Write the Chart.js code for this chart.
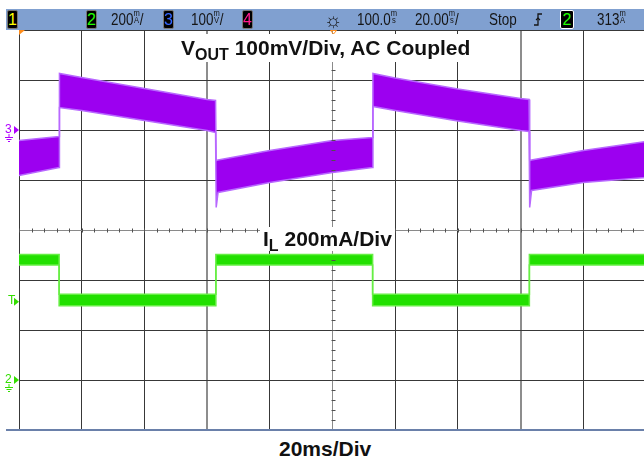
<!DOCTYPE html>
<html>
<head>
<meta charset="utf-8">
<script src="https://cdn.jsdelivr.net/npm/chart.js@4/dist/chart.umd.min.js"></script>
<style>
  body{margin:0;background:#fff;overflow:hidden;width:644px;height:459px;position:relative;font-family:"Liberation Sans",Arial,sans-serif;}
  #scope{position:absolute;left:0;top:0;}
  #bar{position:absolute;left:6px;top:9px;width:640px;height:21px;background:#80a0d0;}
  #baseLine{position:absolute;left:6px;top:429px;width:640px;height:2px;background:#6a80aa;}
  .chBox{position:absolute;top:10px;width:9px;height:17px;background:#000;border:1px solid #777;border-radius:2px;
    font-size:16px;line-height:17px;text-align:center;}
  .st{position:absolute;top:9px;height:21px;line-height:22px;font-size:16px;color:#151515;white-space:nowrap;
    transform:scaleX(0.84);transform-origin:left center;}
  .stk{display:inline-block;font-size:9px;line-height:7px;vertical-align:2px;text-align:center;}
  .lbl{position:absolute;background:#fff;font-weight:bold;font-size:21px;color:#111;white-space:nowrap;}
  .lbl sub{font-size:16px;vertical-align:-5px;line-height:0;}
  .mk{position:absolute;font-size:12px;line-height:12px;}
</style>
</head>
<body>
<canvas id="scope" width="646" height="431"></canvas>

<div id="bar"></div>
<div class="chBox" style="left:7px;color:#ffff00;">1</div>
<div class="chBox" style="left:86px;color:#22ff00;">2</div>
<div class="st" style="left:111px;">200<span class="stk">m<br>A</span>/</div>
<div class="chBox" style="left:163px;color:#3366ff;">3</div>
<div class="st" style="left:191px;">100<span class="stk">m<br>V</span>/</div>
<div class="chBox" style="left:242px;color:#ff1a8c;">4</div>
<div class="st" style="left:324px;font-size:20px;transform:none;">☼</div>
<div class="st" style="left:357px;">100.0<span class="stk">m<br>s</span></div>
<div class="st" style="left:415px;">20.00<span class="stk">m<br>s</span>/</div>
<div class="st" style="left:489px;">Stop</div>
<svg style="position:absolute;left:533px;top:12px;" width="10" height="16">
  <path d="M1 13 H5 V2 H9" stroke="#151515" stroke-width="1.3" fill="none"/>
  <path d="M3 8 L5 6 L7 8" stroke="#151515" stroke-width="1.1" fill="none"/>
</svg>
<div class="chBox" style="left:560px;color:#22ff00;border-color:#fff;width:12px;">2</div>
<div class="st" style="left:597px;">313<span class="stk">m<br>A</span></div>

<div id="baseLine"></div>

<div class="lbl" style="left:178px;top:34px;line-height:28px;padding:0 3px;">V<sub>OUT</sub> 100mV/Div, AC Coupled</div>
<div class="lbl" style="left:260px;top:227px;line-height:24px;padding:0 3px;">I<sub>L</sub> 200mA/Div</div>
<div class="lbl" style="left:279px;top:437px;line-height:24px;background:transparent;">20ms/Div</div>

<span class="mk" id="mk3" style="left:5px;color:#b000ff;">3</span>
<span class="mk" id="mkT" style="left:8px;color:#33dd00;">T</span>
<span class="mk" id="mk2" style="left:5px;color:#33dd00;">2</span>

<script>
'use strict';

// time axis, ms (20ms/div, trigger at left edge)
const timeTicks = [0,20,40,60,80,100,120,140,160,180,200];

// VOUT (ch3), mV, AC coupled - envelope of the noisy trace
const vTime =   [0,   12.8, 12.9, 20,  40, 60, 62.7, 62.9, 63.5, 80,   100, 112.7, 112.9, 120, 140, 160, 162.7, 162.9, 163.5, 180,  200];
const vTop =    [-21, -13,  113,  105, 83, 61, 59,   -61,  -60,  -41,  -21, -15,   113,   104, 82,  63,  61,    -61,   -60,   -41,  -23];
const vBottom = [-91, -75,  45,   39,  19, -1, -5,   -155, -125, -105, -85, -75,   47,    39,  18,  -1,  -3,    -155,  -121,  -105, -95];

// IL (ch2), mA
const iTime =   [0,   12.8, 12.8, 62.8, 62.8, 112.8, 112.8, 162.8, 162.8, 200];
const iTop =    [502, 502,  343,  343,  502,  502,   343,   343,   502,   502];
const iBottom = [460, 460,  297,  297,  460,  460,   297,   297,   460,   460];

const trigLevel = 313;

const cursorTimes = [60,160];
const purple = '#9c00f0';
const green = '#22e000';

function toPoints(xs,ys){
  let pts=[];
  for(let i=0;i<xs.length;i++){
    pts.push({x:xs[i],y:ys[i]});
  }
  return pts;
}

function gridColor(v,center,isCursor){
  if(isCursor) return 'rgba(135,135,135,0.95)';
  if(v===center) return '#8a8a8a';
  return '#383838';
}

function drawArrow(c,x,y,col){
  c.fillStyle=col;
  c.beginPath();
  c.moveTo(x-5,y-4);
  c.lineTo(x,y);
  c.lineTo(x-5,y+4);
  c.closePath();
  c.fill();
}

function drawGround(c,x,y,col){
  c.strokeStyle=col;
  c.lineWidth=1;
  c.beginPath();
  c.moveTo(x,y); c.lineTo(x,y+3);
  c.moveTo(x-4,y+3.5); c.lineTo(x+4,y+3.5);
  c.moveTo(x-2.5,y+5.5); c.lineTo(x+2.5,y+5.5);
  c.moveTo(x-1,y+7.5); c.lineTo(x+1,y+7.5);
  c.stroke();
}

const scopeMarks = {
  id:'scopeMarks',
  afterDraw(chart){
    const c = chart.ctx;
    const sx = chart.scales.x;
    const s2 = chart.scales.y2;
    const s3 = chart.scales.y3;
    const area = chart.chartArea;
    c.save();
    // minor ticks on the centre lines
    c.strokeStyle='#505050';
    c.lineWidth=1;
    const cy = Math.round(s2.getPixelForValue(600))+0.5;
    const cx = Math.round(sx.getPixelForValue(100))+0.5;
    c.beginPath();
    for(let t=0;t<=200;t+=4){
      let px=Math.round(sx.getPixelForValue(t))+0.5;
      c.moveTo(px,cy-2); c.lineTo(px,cy+2);
    }
    for(let v=-200;v<=1400;v+=40){
      let py=Math.round(s2.getPixelForValue(v))+0.5;
      c.moveTo(cx-2,py); c.lineTo(cx+2,py);
    }
    c.stroke();

    // channel / trigger markers on the left edge
    drawArrow(c,area.left,s3.getPixelForValue(0),'#b000ff');
    drawGround(c,area.left-10,s3.getPixelForValue(0)+4,'#b000ff');
    drawArrow(c,area.left,s2.getPixelForValue(trigLevel),'#33dd00');
    drawArrow(c,area.left,s2.getPixelForValue(0),'#33dd00');
    drawGround(c,area.left-10,s2.getPixelForValue(0)+4,'#33dd00');

    // trigger position markers at the top
    c.fillStyle='#ff8c1a';
    c.beginPath();
    c.moveTo(area.left,area.top);
    c.lineTo(area.left+6,area.top);
    c.lineTo(area.left,area.top+5);
    c.closePath();
    c.fill();
    c.strokeStyle='#ff8c1a';
    c.beginPath();
    c.moveTo(cx-3,area.top+0.5);
    c.lineTo(cx+3,area.top+0.5);
    c.lineTo(cx,area.top+4);
    c.closePath();
    c.stroke();
    c.restore();
  }
};

const ctx = document.getElementById('scope').getContext('2d');
const scopeChart = new Chart(ctx,{
  type:'line',
  data:{
    datasets:[{
      label:'VOUT top',
      data:toPoints(vTime,vTop),
      yAxisID:'y3',
      borderColor:'#b868ff',
      borderWidth:1.5,
      backgroundColor:purple,
      fill:false
    },{
      label:'VOUT bottom',
      data:toPoints(vTime,vBottom),
      yAxisID:'y3',
      borderColor:'#b868ff',
      borderWidth:1.5,
      backgroundColor:purple,
      fill:'-1'
    },{
      label:'IL top',
      data:toPoints(iTime,iTop),
      yAxisID:'y2',
      borderColor:'#66ee44',
      borderWidth:1.5,
      backgroundColor:green,
      fill:false
    },{
      label:'IL bottom',
      data:toPoints(iTime,iBottom),
      yAxisID:'y2',
      borderColor:'#66ee44',
      borderWidth:1.5,
      backgroundColor:green,
      fill:'-1'
    }]
  },
  options:{
    responsive:false,
    animation:false,
    devicePixelRatio:1,
    layout:{padding:{left:19,top:30,right:0,bottom:1}},
    elements:{point:{radius:0},line:{tension:0}},
    plugins:{legend:{display:false},tooltip:{enabled:false}},
    scales:{
      x:{
        type:'linear',
        min:timeTicks[0],
        max:timeTicks[timeTicks.length-1],
        z:1,
        afterBuildTicks:(axis)=>{axis.ticks=timeTicks.map(v=>({value:v}));},
        ticks:{display:false},
        border:{display:false},
        grid:{
          drawTicks:false,
          color:(c)=>gridColor(c.tick.value,100,cursorTimes.includes(c.tick.value)),
          lineWidth:(c)=>cursorTimes.includes(c.tick.value)?2:1
        }
      },
      y2:{
        type:'linear',
        position:'left',
        min:-200,
        max:1400,
        z:1,
        ticks:{display:false,stepSize:200},
        border:{display:false},
        grid:{
          drawTicks:false,
          color:(c)=>gridColor(c.tick.value,600,false),
          lineWidth:1
        }
      },
      y3:{
        type:'linear',
        position:'left',
        min:-600,
        max:200,
        display:false
      }
    }
  },
  plugins:[scopeMarks]
});

document.getElementById('mk3').style.top=(scopeChart.scales.y3.getPixelForValue(0)-7)+'px';
document.getElementById('mkT').style.top=(scopeChart.scales.y2.getPixelForValue(trigLevel)-8)+'px';
document.getElementById('mk2').style.top=(scopeChart.scales.y2.getPixelForValue(0)-7)+'px';
</script>
</body>
</html>
